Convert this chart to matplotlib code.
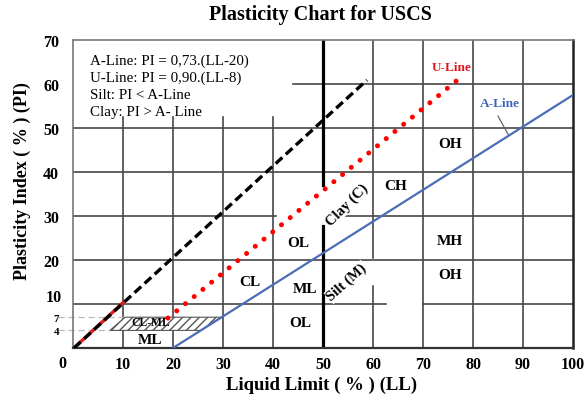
import matplotlib
matplotlib.use("Agg")
import matplotlib.pyplot as plt
from matplotlib.patches import Polygon

plt.rcParams['font.family'] = ['Liberation Serif', 'DejaVu Serif']

# ---------------- data ----------------
x_ticks = [10, 20, 30, 40, 50, 60, 70, 80, 90, 100]
y_ticks = [20, 30, 40, 50, 60, 70]
y_small_ticks = [4, 7]

a_line_ll = [20, 100]
a_line_pi = [0, 57.5]
u_line_ll = [19, 77]
u_line_pi = [6.8, 61]
diag_ll = [0.2, 58.8]
diag_pi = [0, 60.9]
diag_red_ll = [0.2, 10]
diag_red_pi = [0, 10.3]

clml_ll = [7.4, 10.4, 29.6, 25.6]
clml_pi = [4, 7, 7, 4]

# horizontal grid segments: (PI, LL from, LL to)
h_grid = [(60, 44, 100), (50, 0, 100), (40, 0, 100), (30, 0, 40.5), (30, 52.5, 100),
          (20, 0, 100), (10, 0, 62.5), (10, 70, 100)]
# vertical grid segments: (LL, PI from, PI to)
v_grid = [(10, 0, 52.5), (20, 0, 52.5), (30, 0, 52.5), (40, 0, 52.5),
          (60, 0, 14), (60, 20.5, 70), (70, 0, 70), (80, 0, 70), (90, 0, 70)]
thick50 = [(50, 0, 27.7), (50, 37, 70)]

zone_labels = ["OH", "CH", "OL", "MH", "OH", "CL", "ML", "OL", "ML"]
zone_ll = [75.4, 64.6, 45, 75.4, 75.4, 35.4, 46.4, 45.4, 15.4]
zone_pi = [46.4, 37, 24, 24.5, 16.6, 15.2, 13.6, 5.7, 2.0]

info_lines = ["A-Line: PI = 0,73.(LL-20)", "U-Line: PI = 0,90.(LL-8)",
              "Silt: PI < A-Line", "Clay: PI > A- Line"]

# ---------------- figure ----------------
fig = plt.figure(figsize=(5.88, 4.02), dpi=100)
ax = fig.add_axes([73/588, 1-349/402, 500/588, 308/402])
ax.set_xlim(0, 100)
ax.set_ylim(0, 70)

gc = '#474747'
for pi, l0, l1 in h_grid:
    ax.plot([l0, l1], [pi, pi], color=gc, lw=1.2, zorder=1)
for ll, p0, p1 in v_grid:
    ax.plot([ll, ll], [p0, p1], color=gc, lw=1.2, zorder=1)
for ll, p0, p1 in thick50:
    ax.plot([ll, ll], [p0, p1], color='black', lw=2.3, zorder=2)

# light dashed guides for 4 and 7
for v, l1 in zip(y_small_ticks, [clml_ll[0], clml_ll[1]]):
    ax.plot([-3, l1], [v, v], color='#bbbbbb', lw=0.9, ls=(0, (5, 3)), clip_on=False, zorder=1)

# CL-ML hatched zone
poly = Polygon(list(zip(clml_ll, clml_pi)), closed=True, facecolor='white',
               edgecolor='#555555', hatch='////', lw=0.8, zorder=3)
ax.add_patch(poly)

# lines
ax.plot(diag_red_ll, diag_red_pi, color='#e21a1a', lw=2.4, zorder=4)
ax.plot(diag_ll, diag_pi, color='black', lw=2.4, ls=(0, (2.7, 1.4)), zorder=5)
ax.plot(a_line_ll, a_line_pi, color='#4a6db5', lw=1.6, zorder=4)
ax.plot(u_line_ll, u_line_pi, color='#ff0000', lw=3.6, ls=(0, (0.01, 2.25)),
        dash_capstyle='round', zorder=5)

# spines
for s in ['left', 'top']:
    ax.spines[s].set_color('#777777')
    ax.spines[s].set_linewidth(1.2)
ax.spines['right'].set_color('#222222')
ax.spines['right'].set_linewidth(1.8)
ax.spines['bottom'].set_color('#333333')
ax.spines['bottom'].set_linewidth(1.6)

# ticks
ax.set_xticks(x_ticks, [str(v) for v in x_ticks])
ax.set_yticks(y_ticks + y_small_ticks, [str(v) for v in y_ticks + y_small_ticks])
ax.tick_params(axis='both', length=0)
ax.tick_params(axis='x', pad=6)
ax.tick_params(axis='y', pad=10)
for lbl in ax.get_xticklabels() + ax.get_yticklabels():
    lbl.set_fontweight('bold')
    lbl.set_fontsize(11.5)
for lbl in ax.get_yticklabels():
    if lbl.get_text() in ('4', '7'):
        lbl.set_fontsize(8)
ax.text(-2.2, -3.3, "0", ha='center', va='center', fontsize=11.5, fontweight='bold', clip_on=False)
ax.text(-2.2, 11.6, "10", ha='right', va='center', fontsize=11.5, fontweight='bold', clip_on=False)

# zone labels
for t, x, y in zip(zone_labels, zone_ll, zone_pi):
    ax.text(x, y, t, ha='center', va='center', fontsize=11, fontweight='bold', zorder=6)
ax.text(15.6, 5.9, "CL-ML", ha='center', va='center', fontsize=8.5, fontweight='bold', zorder=6)
ax.text(54.8, 32.7, "Clay (C)", ha='center', va='center', fontsize=10.5, fontweight='bold',
        rotation=45, zorder=6, bbox=dict(facecolor='white', edgecolor='none', pad=0.5))
ax.text(54.8, 15.0, "Silt (M)", ha='center', va='center', fontsize=10.5, fontweight='bold',
        rotation=42, zorder=6, bbox=dict(facecolor='white', edgecolor='none', pad=0.5))

ax.text(85.4, 55.7, "A-Line", ha='center', va='center', fontsize=9.5, fontweight='bold', color='#3b64b0')
ax.plot([85, 87], [52.7, 48.6], color='#666666', lw=0.9)
ax.text(75.8, 63.9, "U-Line", ha='center', va='center', fontsize=9.5, fontweight='bold', color='#e0161d')

for i, t in enumerate(info_lines):
    ax.text(3.4, 65.5 - 3.95 * i, t, ha='left', va='center', fontsize=10.8)

fig.text(320/588, 1-15/402, "Plasticity Chart for USCS", ha='center', va='center',
         fontsize=14.5, fontweight='bold')
fig.text(322/588, 1-385/402, "Liquid Limit ( % ) (LL)", ha='center', va='center',
         fontsize=13.5, fontweight='bold')
fig.text(22/588, 1-181/402, "Plasticity Index ( % ) (PI)", ha='center', va='center',
         fontsize=13, fontweight='bold', rotation=90)

fig.savefig("out.png", dpi=100)
